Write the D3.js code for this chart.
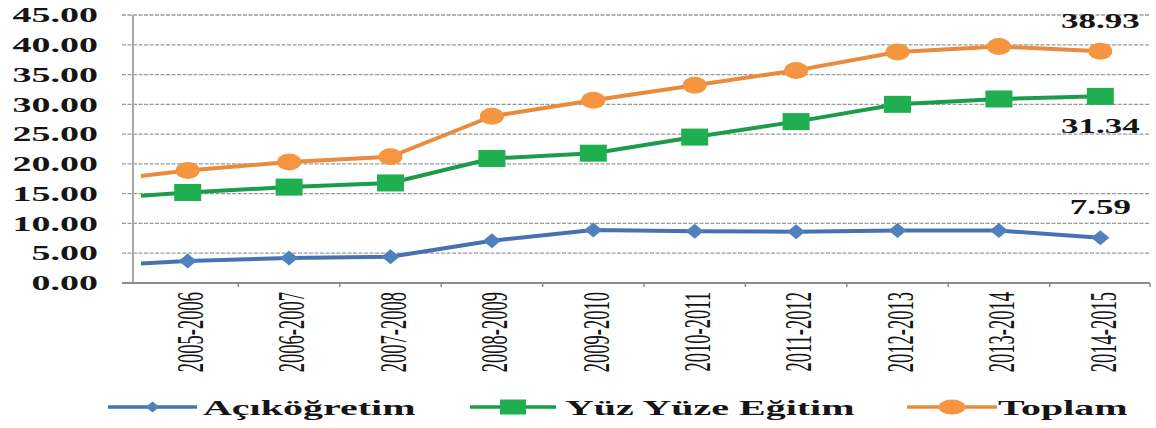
<!DOCTYPE html>
<html><head><meta charset="utf-8">
<script src="https://cdn.jsdelivr.net/npm/d3@7"></script>
<style>
html,body{margin:0;padding:0;background:#fff;}
svg{display:block;}
text{font-family:"Liberation Serif","Times New Roman",serif;fill:#151515;}
</style></head>
<body>
<svg id="c" width="1156" height="428"></svg>
<script>
// ---- data ----
const categories = ["2005-2006","2006-2007","2007-2008","2008-2009","2009-2010","2010-2011","2011-2012","2012-2013","2013-2014","2014-2015"];
const leadIn = {acik: 2.8, yuz: 14.0, toplam: 16.9}; // previous year (partly visible at left edge)
const acikogretim = [3.7, 4.2, 4.4, 7.1, 8.9, 8.7, 8.6, 8.8, 8.8, 7.59];
const yuzYuze     = [15.2, 16.1, 16.8, 20.9, 21.8, 24.5, 27.1, 30.0, 30.9, 31.34];
const toplam      = [18.9, 20.3, 21.2, 28.0, 30.7, 33.2, 35.7, 38.8, 39.7, 38.93];
const yTicks = [0,5,10,15,20,25,30,35,40,45];
const seriesNames = ["Açıköğretim","Yüz Yüze Eğitim","Toplam"];

(function(){
const svg = d3.select("#c");
const pLeft = 133, pRight = 1151, pTop = 15, pBottom = 283;
const x = d3.scaleBand().domain(categories).range([137, pRight]);
const cx = c => x(c) + x.bandwidth()/2;
const y = d3.scaleLinear().domain([0,45]).range([pBottom, pTop]);

// gridlines
svg.append("g").selectAll("line").data(yTicks.filter(t=>t>0)).join("line")
  .attr("x1",122).attr("x2",1150).attr("y1",d=>y(d)).attr("y2",d=>y(d))
  .attr("stroke","#9a9a9a").attr("stroke-width",1.3).attr("stroke-dasharray","4,1.5");

// y axis line
svg.append("line").attr("x1",pLeft).attr("x2",pLeft).attr("y1",pTop).attr("y2",pBottom)
  .attr("stroke","#a8a8a8").attr("stroke-width",2);
// x axis line
svg.append("line").attr("x1",122).attr("x2",1150).attr("y1",y(0)).attr("y2",y(0))
  .attr("stroke","#8c8c8c").attr("stroke-width",2);
// x ticks at band boundaries
svg.append("g").selectAll("line").data(categories.slice(1)).join("line")
  .attr("x1",d=>x(d)).attr("x2",d=>x(d)).attr("y1",pBottom).attr("y2",pBottom+4)
  .attr("stroke","#8c8c8c").attr("stroke-width",1.5);
svg.append("line").attr("x1",1150).attr("x2",1150).attr("y1",pBottom).attr("y2",pBottom+4)
  .attr("stroke","#8c8c8c").attr("stroke-width",1.5);

// y tick labels
svg.append("g").selectAll("text").data(yTicks).join("text")
  .attr("transform",d=>`translate(98,${y(d)}) scale(1.9,1)`)
  .attr("dy","0.36em").attr("text-anchor","end")
  .style("font-size","20px").style("font-weight","bold")
  .text(d=>d3.format(".2f")(d));

// x labels
svg.append("g").selectAll("text").data(categories).join("text")
  .attr("transform",d=>`translate(${cx(d)+3},292) scale(2,1) rotate(-90)`)
  .attr("dy","0.33em").attr("text-anchor","end")
  .style("font-size","18.5px")
  .text(d=>d);

// clip
svg.append("clipPath").attr("id","pc").append("rect")
  .attr("x",141).attr("y",0).attr("width",1156-141).attr("height",pBottom);

const prevX = cx(categories[0]) - x.bandwidth();
const line = d3.line().x(d=>d[0]).y(d=>y(d[1]));
function pts(lead, arr){ return [[prevX, lead]].concat(arr.map((v,i)=>[cx(categories[i]), v])); }

const series = [
  {name:seriesNames[0], data:acikogretim, lead:leadIn.acik, line:"#4673b0", fill:"#4f81bd", shape:"diamond"},
  {name:seriesNames[1], data:yuzYuze, lead:leadIn.yuz, line:"#1c9c4a", fill:"#1fae50", shape:"square"},
  {name:seriesNames[2], data:toplam, lead:leadIn.toplam, line:"#e98a3c", fill:"#f5953f", shape:"circle"}
];

function marker(g, shape, px, py, fill, w, h){
  if(shape==="diamond"){
    g.append("path").attr("d",`M${px-w/2},${py}L${px},${py-h/2}L${px+w/2},${py}L${px},${py+h/2}Z`).attr("fill",fill);
  } else if(shape==="square"){
    g.append("rect").attr("x",px-w/2).attr("y",py-h/2).attr("width",w).attr("height",h).attr("fill",fill);
  } else {
    g.append("ellipse").attr("cx",px).attr("cy",py).attr("rx",w/2).attr("ry",h/2).attr("fill",fill);
  }
}
const sizes = {diamond:[18,15], square:[27,17], circle:[24,17]};

series.forEach(s=>{
  const g = svg.append("g");
  g.append("path").attr("d",line(pts(s.lead,s.data))).attr("clip-path","url(#pc)")
    .attr("fill","none").attr("stroke",s.line).attr("stroke-width",4).attr("stroke-linejoin","round");
  s.data.forEach((v,i)=>marker(g, s.shape, cx(categories[i]), y(v), s.fill, sizes[s.shape][0], sizes[s.shape][1]));
});

// data labels for last point
const lastC = categories[categories.length-1];
const labels = [
  {v: toplam[9], dy: -23},
  {v: yuzYuze[9], dy: 37},
  {v: acikogretim[9], dy: -24}
];
svg.append("g").selectAll("text").data(labels).join("text")
  .attr("transform",d=>`translate(${cx(lastC)},${y(d.v)+d.dy}) scale(1.75,1)`)
  .attr("text-anchor","middle").style("font-size","20px").style("font-weight","bold")
  .text(d=>d3.format(".2f")(d.v));

// legend
const legend = [
  {s:series[0], x1:108, x2:197, tx:203, mw:14, mh:11},
  {s:series[1], x1:470, x2:556, tx:565, mw:26, mh:15},
  {s:series[2], x1:907, x2:997, tx:998, mw:27, mh:15}
];
const ly = 407;
legend.forEach(l=>{
  const g = svg.append("g");
  g.append("line").attr("x1",l.x1).attr("x2",l.x2).attr("y1",ly).attr("y2",ly)
    .attr("stroke",l.s.line).attr("stroke-width",3.5);
  marker(g, l.s.shape, (l.x1+l.x2)/2, ly, l.s.fill, l.mw, l.mh);
  g.append("text").attr("transform",`translate(${l.tx},${ly+8}) scale(2,1)`)
    .style("font-size","20px").style("font-weight","bold").text(l.s.name);
});
})();
</script>
</body></html>
